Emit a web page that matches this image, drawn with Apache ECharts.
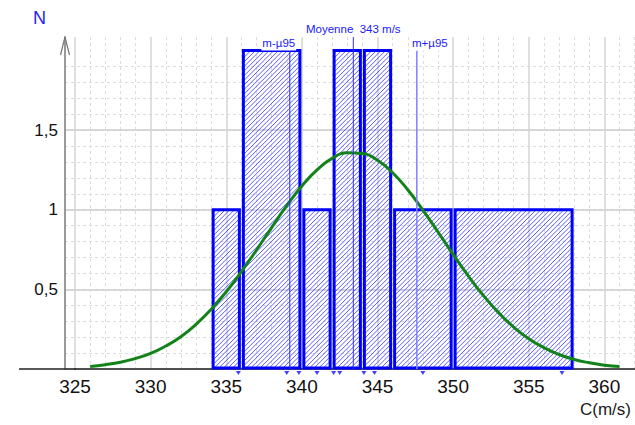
<!DOCTYPE html>
<html>
<head>
<meta charset="utf-8">
<title>Histogramme C(m/s)</title>
<script src="https://cdn.jsdelivr.net/npm/echarts@6/dist/echarts.min.js"></script>
<style>
  html, body { margin: 0; padding: 0; background: #fff; }
  #chart { width: 635px; height: 425px; }
</style>
</head>
<body>
<div id="chart"></div>
<script>
// classes de l'histogramme (bornes en m/s) et effectifs
var binStart = [334, 336, 340, 342, 344, 346, 350];
var binEnd   = [336, 340, 342, 344, 346, 350, 358];
var binCount = [1, 2, 1, 2, 2, 1, 1];

// mesures (petits repères sous l'axe)
var measures = [335.8, 339.0, 339.8, 341.0, 342.1, 342.5, 344.1, 344.8, 348.0, 357.2];

// courbe verte
var curveX = [326, 327, 328, 329, 330, 331, 332, 333, 334, 335, 336, 337, 338, 339, 340, 341, 342, 343,
              344, 345, 346, 347, 348, 349, 350, 351, 352, 353, 354, 355, 356, 357, 358, 359, 360, 361];
var curveY = [0.016, 0.027, 0.042, 0.066, 0.098, 0.144, 0.203, 0.280, 0.374, 0.485, 0.611, 0.747, 0.888, 1.025, 1.149, 1.250, 1.322, 1.357,
              1.353, 1.310, 1.232, 1.125, 0.998, 0.860, 0.719, 0.585, 0.461, 0.354, 0.263, 0.190, 0.134, 0.091, 0.060, 0.039, 0.024, 0.015];

// moyenne et intervalle
var refValues = [339.2, 343.4, 347.6];
var refTops   = [2.0, 2.084, 2.0];
var refLabels = ['m-\u00b595', 'Moyenne  343 m/s', 'm+\u00b595'];

var xTickLabels = ['325', '330', '335', '340', '345', '350', '355', '360', ''];
var yTickLabels = ['', '0,5', '1', '1,5'];

var narrow = "'Liberation Sans Narrow', 'Liberation Sans', sans-serif";
var pxPerN = 159.3;
var axisY = 369;

var chart = echarts.init(document.getElementById('chart'), null, { renderer: 'svg' });

function renderBar(params, api) {
    var a = api.coord([api.value(0), api.value(2)]);
    var b = api.coord([api.value(1), 0]);
    var x0 = a[0] + 2, x1 = b[0] - 2, y0 = a[1], y1 = b[1] - 1;
    var kids = [];
    // hachures "////"
    for (var c = x0 + y0 + 3; c < x1 + y1; c += 4.6) {
        var sx = Math.max(x0, c - y1), ex = Math.min(x1, c - y0);
        if (ex > sx) {
            kids.push({
                type: 'line',
                shape: { x1: sx, y1: c - sx, x2: ex, y2: c - ex },
                style: { stroke: 'rgba(30,30,255,0.72)', lineWidth: 1 }
            });
        }
    }
    kids.push({
        type: 'rect',
        shape: { x: x0, y: y0, width: x1 - x0, height: y1 - y0 },
        style: { fill: 'none', stroke: '#0000ff', lineWidth: 3 }
    });
    return { type: 'group', children: kids };
}

function renderRef(params, api) {
    var i = params.dataIndex;
    var top = api.coord([api.value(0), api.value(1)]);
    var bot = api.coord([api.value(0), 0]);
    var colors = ['#2a2aff', '#3030ff', '#8080ff'];
    var dx = [-11, 0, 13];
    var dy = [-7, -8, -7];
    return {
        type: 'group',
        children: [
            {
                type: 'line',
                shape: { x1: top[0], y1: top[1], x2: bot[0], y2: bot[1] },
                style: { stroke: colors[i], lineWidth: i === 2 ? 1.5 : 1 }
            },
            {
                type: 'text',
                x: top[0] + dx[i],
                y: top[1] + dy[i],
                style: {
                    text: refLabels[i],
                    fill: '#2020ff',
                    fontSize: 11.5,
                    fontFamily: 'Liberation Sans',
                    align: 'center',
                    verticalAlign: 'middle',
                    backgroundColor: '#fff',
                    padding: [1, 1]
                }
            }
        ]
    };
}

var option = {
    animation: false,
    backgroundColor: '#fff',
    title: [
        {
            text: 'N', left: 33, top: 9, padding: 0,
            textStyle: { color: '#1e1eff', fontSize: 18, fontWeight: 'normal', fontFamily: narrow }
        },
        {
            text: 'C(m/s)', right: 4, top: 401, padding: 0,
            textStyle: { color: '#1a1a1a', fontSize: 17, fontWeight: 'normal', fontFamily: narrow }
        }
    ],
    grid: [
        { left: 75, width: 605, top: 37, bottom: 425 - axisY, outerBoundsMode: 'none', containLabel: false },
        { left: 65, right: 0, top: axisY - 1.9 * pxPerN, bottom: 425 - axisY, outerBoundsMode: 'none' },
        { left: 65, right: 0, top: axisY - 1.5 * pxPerN, bottom: 425 - axisY, outerBoundsMode: 'none' }
    ],
    xAxis: [
        {
            gridIndex: 0, type: 'value', min: 325, max: 365, interval: 5,
            axisLine: { show: true, onZero: false, lineStyle: { color: '#222', width: 1.5 } },
            axisTick: { show: false },
            axisLabel: {
                color: '#111', fontSize: 19, fontFamily: narrow, margin: 8,
                formatter: function (v, i) { return xTickLabels[i] || ''; }
            },
            splitLine: { show: true, lineStyle: { color: '#d4d4d4', width: 1.5 } },
            minorTick: { show: false, splitNumber: 5 },
            minorSplitLine: { show: true, lineStyle: { color: '#dcdcdc', width: 1, type: [3, 3] } }
        },
        { gridIndex: 1, type: 'value', min: 0, max: 1, show: false },
        { gridIndex: 2, type: 'value', min: 0, max: 1, show: false }
    ],
    yAxis: [
        {
            gridIndex: 0, type: 'value', min: 0, max: (axisY - 37) / pxPerN, offset: 10,
            axisLine: { show: true, lineStyle: { color: '#9a9a9a', width: 2 } },
            axisTick: { show: false },
            axisLabel: { show: false },
            splitLine: { show: false }
        },
        {
            gridIndex: 1, type: 'value', min: 0, max: 1.9, interval: 0.1,
            axisLine: { show: false }, axisTick: { show: false }, axisLabel: { show: false },
            splitLine: { show: true, lineStyle: { color: '#dcdcdc', width: 1, type: [3, 3] } }
        },
        {
            gridIndex: 2, type: 'value', min: 0, max: 1.5, interval: 0.5,
            axisLine: { show: false }, axisTick: { show: false },
            axisLabel: {
                color: '#111', fontSize: 17, fontFamily: narrow, margin: 7,
                padding: [0, 0, 10, 0],
                formatter: function (v, i) { return yTickLabels[i] || ''; }
            },
            splitLine: { show: true, lineStyle: { color: '#cdcdcd', width: 1.5 } }
        }
    ],
    series: [
        {
            type: 'custom',
            xAxisIndex: 0, yAxisIndex: 0,
            renderItem: renderBar,
            clip: false,
            z: 3,
            data: binStart.map(function (s, i) { return [s, binEnd[i], binCount[i]]; })
        },
        {
            type: 'scatter',
            xAxisIndex: 0, yAxisIndex: 0,
            symbol: 'triangle', symbolRotate: 180, symbolSize: [5, 4], symbolOffset: [0, 4],
            itemStyle: { color: '#1010ff' },
            clip: false,
            z: 4,
            data: measures.map(function (m) { return [m, 0]; })
        },
        {
            type: 'line',
            xAxisIndex: 0, yAxisIndex: 0,
            smooth: true,
            showSymbol: false,
            lineStyle: { color: '#13821a', width: 3 },
            z: 5,
            data: curveX.map(function (x, i) { return [x, curveY[i]]; })
        },
        {
            type: 'custom',
            xAxisIndex: 0, yAxisIndex: 0,
            renderItem: renderRef,
            clip: false,
            z: 6,
            data: refValues.map(function (v, i) { return [v, refTops[i]]; })
        }
    ],
    graphic: [
        {
            type: 'line', z: 10,
            shape: { x1: 19, y1: axisY, x2: 76, y2: axisY },
            style: { stroke: '#222', lineWidth: 1.5 }
        },
        {
            type: 'polyline', z: 10,
            shape: { points: [[60.5, 55], [65, 37], [69.5, 55]] },
            style: { stroke: '#777', lineWidth: 1.2, fill: 'none' }
        }
    ]
};

chart.setOption(option);
</script>
</body>
</html>
